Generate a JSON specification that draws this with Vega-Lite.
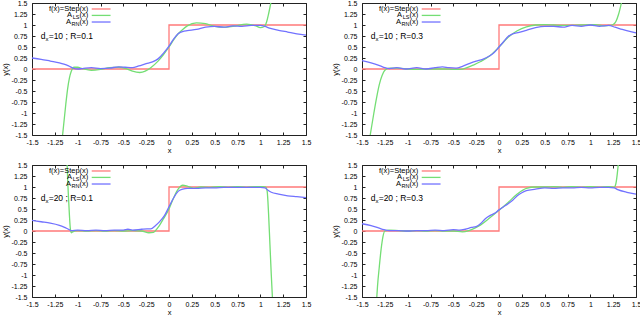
{
"$schema": "https://vega.github.io/schema/vega-lite/v6.json",
"padding": {"left": 0, "top": -2, "right": 0, "bottom": 0},
"config": {
 "view": {"stroke": "#222", "strokeWidth": 1},
 "axis": {"labelFont": "Liberation Sans", "labelFontSize": 7, "labelColor": "#000", "titleFont": "Liberation Sans", "titleFontSize": 7.5, "titleFontWeight": "normal", "titleColor": "#000", "domain": false, "grid": false, "tickSize": -3, "tickColor": "#222", "tickWidth": 1, "labelFlush": false, "labelOverlap": false},
 "text": {"font": "Liberation Sans", "fontSize": 7.5, "baseline": "middle", "color": "#000"},
 "line": {"clip": true, "strokeWidth": 1.3}
},
"datasets": {
 "step": [{"x": -1.5, "y": 0}, {"x": 0, "y": 1}, {"x": 1.5, "y": 1}],
 "p1rn": [{"x":-1.5,"y":0.25},{"x":-1.4,"y":0.22},{"x":-1.3,"y":0.18},{"x":-1.2,"y":0.14},{"x":-1.15,"y":0.11},{"x":-1.1,"y":0.07},{"x":-1.05,"y":0.02},{"x":-1.0,"y":0.0},{"x":-0.95,"y":0.01},{"x":-0.85,"y":0.03},{"x":-0.75,"y":0.01},{"x":-0.65,"y":0.02},{"x":-0.55,"y":0.05},{"x":-0.48,"y":0.04},{"x":-0.4,"y":0.03},{"x":-0.33,"y":0.07},{"x":-0.25,"y":0.12},{"x":-0.18,"y":0.16},{"x":-0.12,"y":0.23},{"x":-0.06,"y":0.36},{"x":0,"y":0.52},{"x":0.05,"y":0.68},{"x":0.1,"y":0.8},{"x":0.15,"y":0.85},{"x":0.2,"y":0.87},{"x":0.3,"y":0.9},{"x":0.4,"y":0.95},{"x":0.5,"y":0.97},{"x":0.6,"y":0.95},{"x":0.7,"y":0.98},{"x":0.8,"y":0.97},{"x":0.9,"y":0.99},{"x":1.0,"y":0.99},{"x":1.05,"y":0.97},{"x":1.1,"y":0.93},{"x":1.2,"y":0.88},{"x":1.3,"y":0.84},{"x":1.4,"y":0.8},{"x":1.5,"y":0.77}],
 "p1ls": [{"x":-1.165,"y":-1.5},{"x":-1.13,"y":-0.8},{"x":-1.11,"y":-0.45},{"x":-1.09,"y":-0.2},{"x":-1.07,"y":-0.05},{"x":-1.04,"y":0.04},{"x":-1.0,"y":0.04},{"x":-0.95,"y":0.01},{"x":-0.85,"y":-0.03},{"x":-0.75,"y":-0.01},{"x":-0.65,"y":0.03},{"x":-0.55,"y":0.04},{"x":-0.47,"y":0.01},{"x":-0.4,"y":-0.05},{"x":-0.32,"y":-0.08},{"x":-0.26,"y":-0.05},{"x":-0.2,"y":0.03},{"x":-0.12,"y":0.18},{"x":-0.06,"y":0.33},{"x":0,"y":0.5},{"x":0.05,"y":0.66},{"x":0.1,"y":0.8},{"x":0.15,"y":0.9},{"x":0.2,"y":0.98},{"x":0.3,"y":1.05},{"x":0.4,"y":1.03},{"x":0.5,"y":0.97},{"x":0.6,"y":0.95},{"x":0.7,"y":0.97},{"x":0.85,"y":1.02},{"x":0.95,"y":0.98},{"x":1.0,"y":0.94},{"x":1.04,"y":0.96},{"x":1.07,"y":1.08},{"x":1.09,"y":1.25},{"x":1.115,"y":1.5}],
 "p2rn": [{"x":-1.5,"y":0.19},{"x":-1.4,"y":0.14},{"x":-1.3,"y":0.07},{"x":-1.25,"y":0.03},{"x":-1.2,"y":0.01},{"x":-1.12,"y":0.03},{"x":-1.02,"y":0.0},{"x":-0.9,"y":0.03},{"x":-0.8,"y":0.0},{"x":-0.7,"y":0.03},{"x":-0.62,"y":0.05},{"x":-0.55,"y":0.03},{"x":-0.47,"y":0.02},{"x":-0.4,"y":0.06},{"x":-0.32,"y":0.13},{"x":-0.25,"y":0.18},{"x":-0.18,"y":0.22},{"x":-0.1,"y":0.3},{"x":-0.05,"y":0.38},{"x":0,"y":0.5},{"x":0.05,"y":0.62},{"x":0.1,"y":0.74},{"x":0.15,"y":0.8},{"x":0.22,"y":0.83},{"x":0.3,"y":0.88},{"x":0.4,"y":0.94},{"x":0.5,"y":0.97},{"x":0.6,"y":0.97},{"x":0.7,"y":0.95},{"x":0.8,"y":0.99},{"x":0.9,"y":0.97},{"x":1.0,"y":1.0},{"x":1.1,"y":0.97},{"x":1.2,"y":0.99},{"x":1.27,"y":0.95},{"x":1.35,"y":0.9},{"x":1.42,"y":0.86},{"x":1.5,"y":0.82}],
 "p2ls": [{"x":-1.41,"y":-1.5},{"x":-1.37,"y":-1.0},{"x":-1.34,"y":-0.65},{"x":-1.31,"y":-0.35},{"x":-1.28,"y":-0.15},{"x":-1.25,"y":-0.03},{"x":-1.2,"y":0.02},{"x":-1.1,"y":0.02},{"x":-1.0,"y":0.0},{"x":-0.9,"y":-0.01},{"x":-0.75,"y":0.0},{"x":-0.6,"y":0.0},{"x":-0.5,"y":-0.01},{"x":-0.42,"y":-0.01},{"x":-0.35,"y":0.03},{"x":-0.28,"y":0.09},{"x":-0.2,"y":0.17},{"x":-0.1,"y":0.3},{"x":0,"y":0.5},{"x":0.1,"y":0.72},{"x":0.2,"y":0.87},{"x":0.3,"y":0.96},{"x":0.4,"y":1.0},{"x":0.5,"y":1.01},{"x":0.6,"y":1.0},{"x":0.75,"y":0.99},{"x":0.9,"y":1.0},{"x":1.05,"y":1.01},{"x":1.15,"y":0.98},{"x":1.22,"y":0.99},{"x":1.25,"y":1.01},{"x":1.28,"y":1.08},{"x":1.31,"y":1.25},{"x":1.34,"y":1.5}],
 "p3rn": [{"x":-1.5,"y":0.24},{"x":-1.4,"y":0.21},{"x":-1.3,"y":0.18},{"x":-1.2,"y":0.13},{"x":-1.15,"y":0.09},{"x":-1.1,"y":0.04},{"x":-1.07,"y":0.01},{"x":-1.0,"y":0.02},{"x":-0.9,"y":0.01},{"x":-0.8,"y":0.02},{"x":-0.7,"y":0.01},{"x":-0.6,"y":0.02},{"x":-0.5,"y":0.02},{"x":-0.45,"y":0.04},{"x":-0.4,"y":0.02},{"x":-0.3,"y":0.04},{"x":-0.24,"y":0.05},{"x":-0.2,"y":0.05},{"x":-0.15,"y":0.12},{"x":-0.1,"y":0.22},{"x":-0.05,"y":0.35},{"x":0,"y":0.55},{"x":0.05,"y":0.75},{"x":0.1,"y":0.9},{"x":0.15,"y":0.95},{"x":0.2,"y":0.97},{"x":0.3,"y":0.97},{"x":0.4,"y":0.98},{"x":0.5,"y":0.98},{"x":0.6,"y":0.99},{"x":0.75,"y":0.99},{"x":0.9,"y":0.99},{"x":1.0,"y":0.99},{"x":1.05,"y":0.98},{"x":1.08,"y":0.93},{"x":1.12,"y":0.88},{"x":1.2,"y":0.84},{"x":1.3,"y":0.8},{"x":1.4,"y":0.78},{"x":1.5,"y":0.76}],
 "p3ls": [{"x":-1.115,"y":1.5},{"x":-1.11,"y":1.2},{"x":-1.1,"y":0.75},{"x":-1.09,"y":0.35},{"x":-1.08,"y":0.05},{"x":-1.07,"y":-0.04},{"x":-1.055,"y":-0.02},{"x":-1.0,"y":0.01},{"x":-0.9,"y":0.0},{"x":-0.8,"y":0.01},{"x":-0.7,"y":0.0},{"x":-0.6,"y":0.01},{"x":-0.5,"y":0.0},{"x":-0.4,"y":0.01},{"x":-0.3,"y":0.0},{"x":-0.22,"y":-0.04},{"x":-0.17,"y":-0.03},{"x":-0.12,"y":0.08},{"x":-0.06,"y":0.28},{"x":0,"y":0.5},{"x":0.05,"y":0.75},{"x":0.1,"y":0.95},{"x":0.15,"y":1.04},{"x":0.2,"y":1.02},{"x":0.27,"y":0.97},{"x":0.35,"y":1.0},{"x":0.45,"y":0.99},{"x":0.55,"y":1.01},{"x":0.65,"y":0.99},{"x":0.75,"y":1.01},{"x":0.85,"y":0.99},{"x":0.95,"y":1.01},{"x":1.03,"y":1.01},{"x":1.06,"y":1.0},{"x":1.075,"y":0.9},{"x":1.09,"y":0.4},{"x":1.105,"y":-0.3},{"x":1.12,"y":-1.0},{"x":1.132,"y":-1.5}],
 "p4rn": [{"x":-1.5,"y":0.165},{"x":-1.4,"y":0.12},{"x":-1.32,"y":0.07},{"x":-1.26,"y":0.03},{"x":-1.2,"y":0.01},{"x":-1.1,"y":0.01},{"x":-1.0,"y":0.0},{"x":-0.9,"y":0.01},{"x":-0.8,"y":0.01},{"x":-0.7,"y":0.02},{"x":-0.6,"y":0.01},{"x":-0.5,"y":0.03},{"x":-0.43,"y":0.02},{"x":-0.37,"y":0.04},{"x":-0.3,"y":0.08},{"x":-0.25,"y":0.1},{"x":-0.2,"y":0.17},{"x":-0.15,"y":0.28},{"x":-0.1,"y":0.35},{"x":-0.05,"y":0.4},{"x":0,"y":0.48},{"x":0.05,"y":0.55},{"x":0.1,"y":0.62},{"x":0.15,"y":0.7},{"x":0.2,"y":0.8},{"x":0.25,"y":0.87},{"x":0.3,"y":0.92},{"x":0.4,"y":0.95},{"x":0.5,"y":0.98},{"x":0.6,"y":0.97},{"x":0.7,"y":0.98},{"x":0.8,"y":0.98},{"x":0.9,"y":0.99},{"x":1.0,"y":0.98},{"x":1.1,"y":0.99},{"x":1.2,"y":0.99},{"x":1.26,"y":0.98},{"x":1.3,"y":0.94},{"x":1.4,"y":0.88},{"x":1.5,"y":0.84}],
 "p4ls": [{"x":-1.338,"y":-1.5},{"x":-1.33,"y":-1.25},{"x":-1.31,"y":-0.8},{"x":-1.29,"y":-0.4},{"x":-1.27,"y":-0.12},{"x":-1.25,"y":0.0},{"x":-1.2,"y":0.02},{"x":-1.1,"y":0.01},{"x":-1.0,"y":0.0},{"x":-0.9,"y":0.01},{"x":-0.8,"y":0.0},{"x":-0.7,"y":0.01},{"x":-0.6,"y":0.0},{"x":-0.5,"y":0.0},{"x":-0.4,"y":-0.02},{"x":-0.33,"y":0.01},{"x":-0.27,"y":0.06},{"x":-0.2,"y":0.14},{"x":-0.1,"y":0.3},{"x":0,"y":0.47},{"x":0.1,"y":0.65},{"x":0.2,"y":0.84},{"x":0.3,"y":0.97},{"x":0.4,"y":1.0},{"x":0.5,"y":1.0},{"x":0.6,"y":1.01},{"x":0.7,"y":0.99},{"x":0.8,"y":1.01},{"x":0.9,"y":0.99},{"x":1.0,"y":1.01},{"x":1.1,"y":0.99},{"x":1.2,"y":1.01},{"x":1.26,"y":0.99},{"x":1.28,"y":1.08},{"x":1.295,"y":1.3},{"x":1.305,"y":1.5}],
 "one": [{}]
},
"concat": [
 {"width": 274, "height": 132, "resolve": {"axis": {"x": "independent", "y": "independent"}},
  "layer": [
   {"data": {"name": "step"}, "mark": {"type": "line", "interpolate": "step-after", "color": "#ff7a7a"}, "encoding": {"x": {"field": "x", "type": "quantitative", "scale": {"domain": [-1.5, 1.5], "nice": false}, "axis": {"orient": "top", "values": [-1.5,-1.25,-1,-0.75,-0.5,-0.25,0,0.25,0.5,0.75,1,1.25,1.5], "labels": false, "title": null, "labelPadding": 0, "minExtent": 0, "maxExtent": 0}}, "y": {"field": "y", "type": "quantitative", "scale": {"domain": [-1.5, 1.5], "nice": false}, "axis": {"orient": "right", "values": [-1.5,-1.25,-1,-0.75,-0.5,-0.25,0,0.25,0.5,0.75,1,1.25,1.5], "labels": false, "title": null, "labelPadding": 0, "minExtent": 0, "maxExtent": 0}}}},
   {"data": {"name": "p1ls"}, "mark": {"type": "line", "interpolate": "monotone", "color": "#74de74"}, "encoding": {"x": {"field": "x", "type": "quantitative", "scale": {"domain": [-1.5, 1.5], "nice": false}, "axis": null}, "y": {"field": "y", "type": "quantitative", "scale": {"domain": [-1.5, 1.5], "nice": false}, "axis": null}}},
   {"data": {"name": "p1rn"}, "mark": {"type": "line", "interpolate": "monotone", "color": "#7272ff"}, "encoding": {"x": {"field": "x", "type": "quantitative", "scale": {"domain": [-1.5, 1.5], "nice": false}, "axis": {"orient": "bottom", "values": [-1.5,-1.25,-1,-0.75,-0.5,-0.25,0,0.25,0.5,0.75,1,1.25,1.5], "labelExpr": "'' + datum.value", "labelPadding": 6, "title": "x", "titlePadding": 1}}, "y": {"field": "y", "type": "quantitative", "scale": {"domain": [-1.5, 1.5], "nice": false}, "axis": {"orient": "left", "values": [-1.5,-1.25,-1,-0.75,-0.5,-0.25,0,0.25,0.5,0.75,1,1.25,1.5], "labelExpr": "'' + datum.value", "labelPadding": 8, "title": "y(x)", "titlePadding": 2}}}},
   {"data": {"name": "one"}, "mark": {"type": "rule", "color": "#ff7a7a", "strokeWidth": 1.3}, "encoding": {"x": {"datum": -0.846, "axis": null}, "x2": {"datum": -0.64}, "y": {"datum": 1.364, "axis": null}}},
   {"data": {"name": "one"}, "mark": {"type": "rule", "color": "#74de74", "strokeWidth": 1.3}, "encoding": {"x": {"datum": -0.846, "axis": null}, "x2": {"datum": -0.64}, "y": {"datum": 1.218, "axis": null}}},
   {"data": {"name": "one"}, "mark": {"type": "rule", "color": "#7272ff", "strokeWidth": 1.3}, "encoding": {"x": {"datum": -0.846, "axis": null}, "x2": {"datum": -0.64}, "y": {"datum": 1.068, "axis": null}}},
   {"data": {"name": "one"}, "mark": {"type": "text", "align": "right"}, "encoding": {"x": {"datum": -0.883, "axis": null}, "y": {"datum": 1.364, "axis": null}, "text": {"value": "f(x)=Step(x)"}}},
   {"data": {"name": "one"}, "mark": {"type": "text", "align": "right"}, "encoding": {"x": {"datum": -0.883, "axis": null}, "y": {"datum": 1.218, "axis": null}, "text": {"value": "(x)"}}},
   {"data": {"name": "one"}, "mark": {"type": "text", "align": "right", "fontSize": 5.5, "dx": -8.9, "dy": 2}, "encoding": {"x": {"datum": -0.883, "axis": null}, "y": {"datum": 1.218, "axis": null}, "text": {"value": "LS"}}},
   {"data": {"name": "one"}, "mark": {"type": "text", "align": "right", "dx": -16.3}, "encoding": {"x": {"datum": -0.883, "axis": null}, "y": {"datum": 1.218, "axis": null}, "text": {"value": "A"}}},
   {"data": {"name": "one"}, "mark": {"type": "text", "align": "right"}, "encoding": {"x": {"datum": -0.883, "axis": null}, "y": {"datum": 1.068, "axis": null}, "text": {"value": "(x)"}}},
   {"data": {"name": "one"}, "mark": {"type": "text", "align": "right", "fontSize": 5.5, "dx": -8.9, "dy": 2}, "encoding": {"x": {"datum": -0.883, "axis": null}, "y": {"datum": 1.068, "axis": null}, "text": {"value": "RN"}}},
   {"data": {"name": "one"}, "mark": {"type": "text", "align": "right", "dx": -17.4}, "encoding": {"x": {"datum": -0.883, "axis": null}, "y": {"datum": 1.068, "axis": null}, "text": {"value": "A"}}},
   {"data": {"name": "one"}, "mark": {"type": "text", "align": "left", "fontSize": 8.5}, "encoding": {"x": {"datum": -1.405, "axis": null}, "y": {"datum": 0.74, "axis": null}, "text": {"value": "d"}}},
   {"data": {"name": "one"}, "mark": {"type": "text", "align": "left", "fontSize": 6, "dx": 4.8, "dy": 2.5}, "encoding": {"x": {"datum": -1.405, "axis": null}, "y": {"datum": 0.74, "axis": null}, "text": {"value": "x"}}},
   {"data": {"name": "one"}, "mark": {"type": "text", "align": "left", "fontSize": 8.5, "dx": 8}, "encoding": {"x": {"datum": -1.405, "axis": null}, "y": {"datum": 0.74, "axis": null}, "text": {"value": "=10 ; R=0.1"}}}
  ]},
 {"width": 274, "height": 132, "resolve": {"axis": {"x": "independent", "y": "independent"}},
  "layer": [
   {"data": {"name": "step"}, "mark": {"type": "line", "interpolate": "step-after", "color": "#ff7a7a"}, "encoding": {"x": {"field": "x", "type": "quantitative", "scale": {"domain": [-1.5, 1.5], "nice": false}, "axis": {"orient": "top", "values": [-1.5,-1.25,-1,-0.75,-0.5,-0.25,0,0.25,0.5,0.75,1,1.25,1.5], "labels": false, "title": null, "labelPadding": 0, "minExtent": 0, "maxExtent": 0}}, "y": {"field": "y", "type": "quantitative", "scale": {"domain": [-1.5, 1.5], "nice": false}, "axis": {"orient": "right", "values": [-1.5,-1.25,-1,-0.75,-0.5,-0.25,0,0.25,0.5,0.75,1,1.25,1.5], "labels": false, "title": null, "labelPadding": 0, "minExtent": 0, "maxExtent": 0}}}},
   {"data": {"name": "p2ls"}, "mark": {"type": "line", "interpolate": "monotone", "color": "#74de74"}, "encoding": {"x": {"field": "x", "type": "quantitative", "scale": {"domain": [-1.5, 1.5], "nice": false}, "axis": null}, "y": {"field": "y", "type": "quantitative", "scale": {"domain": [-1.5, 1.5], "nice": false}, "axis": null}}},
   {"data": {"name": "p2rn"}, "mark": {"type": "line", "interpolate": "monotone", "color": "#7272ff"}, "encoding": {"x": {"field": "x", "type": "quantitative", "scale": {"domain": [-1.5, 1.5], "nice": false}, "axis": {"orient": "bottom", "values": [-1.5,-1.25,-1,-0.75,-0.5,-0.25,0,0.25,0.5,0.75,1,1.25,1.5], "labelExpr": "'' + datum.value", "labelPadding": 6, "title": "x", "titlePadding": 1}}, "y": {"field": "y", "type": "quantitative", "scale": {"domain": [-1.5, 1.5], "nice": false}, "axis": {"orient": "left", "values": [-1.5,-1.25,-1,-0.75,-0.5,-0.25,0,0.25,0.5,0.75,1,1.25,1.5], "labelExpr": "'' + datum.value", "labelPadding": 8, "title": "y(x)", "titlePadding": 2}}}},
   {"data": {"name": "one"}, "mark": {"type": "rule", "color": "#ff7a7a", "strokeWidth": 1.3}, "encoding": {"x": {"datum": -0.846, "axis": null}, "x2": {"datum": -0.64}, "y": {"datum": 1.364, "axis": null}}},
   {"data": {"name": "one"}, "mark": {"type": "rule", "color": "#74de74", "strokeWidth": 1.3}, "encoding": {"x": {"datum": -0.846, "axis": null}, "x2": {"datum": -0.64}, "y": {"datum": 1.218, "axis": null}}},
   {"data": {"name": "one"}, "mark": {"type": "rule", "color": "#7272ff", "strokeWidth": 1.3}, "encoding": {"x": {"datum": -0.846, "axis": null}, "x2": {"datum": -0.64}, "y": {"datum": 1.068, "axis": null}}},
   {"data": {"name": "one"}, "mark": {"type": "text", "align": "right"}, "encoding": {"x": {"datum": -0.883, "axis": null}, "y": {"datum": 1.364, "axis": null}, "text": {"value": "f(x)=Step(x)"}}},
   {"data": {"name": "one"}, "mark": {"type": "text", "align": "right"}, "encoding": {"x": {"datum": -0.883, "axis": null}, "y": {"datum": 1.218, "axis": null}, "text": {"value": "(x)"}}},
   {"data": {"name": "one"}, "mark": {"type": "text", "align": "right", "fontSize": 5.5, "dx": -8.9, "dy": 2}, "encoding": {"x": {"datum": -0.883, "axis": null}, "y": {"datum": 1.218, "axis": null}, "text": {"value": "LS"}}},
   {"data": {"name": "one"}, "mark": {"type": "text", "align": "right", "dx": -16.3}, "encoding": {"x": {"datum": -0.883, "axis": null}, "y": {"datum": 1.218, "axis": null}, "text": {"value": "A"}}},
   {"data": {"name": "one"}, "mark": {"type": "text", "align": "right"}, "encoding": {"x": {"datum": -0.883, "axis": null}, "y": {"datum": 1.068, "axis": null}, "text": {"value": "(x)"}}},
   {"data": {"name": "one"}, "mark": {"type": "text", "align": "right", "fontSize": 5.5, "dx": -8.9, "dy": 2}, "encoding": {"x": {"datum": -0.883, "axis": null}, "y": {"datum": 1.068, "axis": null}, "text": {"value": "RN"}}},
   {"data": {"name": "one"}, "mark": {"type": "text", "align": "right", "dx": -17.4}, "encoding": {"x": {"datum": -0.883, "axis": null}, "y": {"datum": 1.068, "axis": null}, "text": {"value": "A"}}},
   {"data": {"name": "one"}, "mark": {"type": "text", "align": "left", "fontSize": 8.5}, "encoding": {"x": {"datum": -1.405, "axis": null}, "y": {"datum": 0.74, "axis": null}, "text": {"value": "d"}}},
   {"data": {"name": "one"}, "mark": {"type": "text", "align": "left", "fontSize": 6, "dx": 4.8, "dy": 2.5}, "encoding": {"x": {"datum": -1.405, "axis": null}, "y": {"datum": 0.74, "axis": null}, "text": {"value": "x"}}},
   {"data": {"name": "one"}, "mark": {"type": "text", "align": "left", "fontSize": 8.5, "dx": 8}, "encoding": {"x": {"datum": -1.405, "axis": null}, "y": {"datum": 0.74, "axis": null}, "text": {"value": "=10 ; R=0.3"}}}
  ]},
 {"width": 274, "height": 132, "resolve": {"axis": {"x": "independent", "y": "independent"}},
  "layer": [
   {"data": {"name": "step"}, "mark": {"type": "line", "interpolate": "step-after", "color": "#ff7a7a"}, "encoding": {"x": {"field": "x", "type": "quantitative", "scale": {"domain": [-1.5, 1.5], "nice": false}, "axis": {"orient": "top", "values": [-1.5,-1.25,-1,-0.75,-0.5,-0.25,0,0.25,0.5,0.75,1,1.25,1.5], "labels": false, "title": null, "labelPadding": 0, "minExtent": 0, "maxExtent": 0}}, "y": {"field": "y", "type": "quantitative", "scale": {"domain": [-1.5, 1.5], "nice": false}, "axis": {"orient": "right", "values": [-1.5,-1.25,-1,-0.75,-0.5,-0.25,0,0.25,0.5,0.75,1,1.25,1.5], "labels": false, "title": null, "labelPadding": 0, "minExtent": 0, "maxExtent": 0}}}},
   {"data": {"name": "p3ls"}, "mark": {"type": "line", "interpolate": "monotone", "color": "#74de74"}, "encoding": {"x": {"field": "x", "type": "quantitative", "scale": {"domain": [-1.5, 1.5], "nice": false}, "axis": null}, "y": {"field": "y", "type": "quantitative", "scale": {"domain": [-1.5, 1.5], "nice": false}, "axis": null}}},
   {"data": {"name": "p3rn"}, "mark": {"type": "line", "interpolate": "monotone", "color": "#7272ff"}, "encoding": {"x": {"field": "x", "type": "quantitative", "scale": {"domain": [-1.5, 1.5], "nice": false}, "axis": {"orient": "bottom", "values": [-1.5,-1.25,-1,-0.75,-0.5,-0.25,0,0.25,0.5,0.75,1,1.25,1.5], "labelExpr": "'' + datum.value", "labelPadding": 6, "title": "x", "titlePadding": 1}}, "y": {"field": "y", "type": "quantitative", "scale": {"domain": [-1.5, 1.5], "nice": false}, "axis": {"orient": "left", "values": [-1.5,-1.25,-1,-0.75,-0.5,-0.25,0,0.25,0.5,0.75,1,1.25,1.5], "labelExpr": "'' + datum.value", "labelPadding": 8, "title": "y(x)", "titlePadding": 2}}}},
   {"data": {"name": "one"}, "mark": {"type": "rule", "color": "#ff7a7a", "strokeWidth": 1.3}, "encoding": {"x": {"datum": -0.846, "axis": null}, "x2": {"datum": -0.64}, "y": {"datum": 1.364, "axis": null}}},
   {"data": {"name": "one"}, "mark": {"type": "rule", "color": "#74de74", "strokeWidth": 1.3}, "encoding": {"x": {"datum": -0.846, "axis": null}, "x2": {"datum": -0.64}, "y": {"datum": 1.218, "axis": null}}},
   {"data": {"name": "one"}, "mark": {"type": "rule", "color": "#7272ff", "strokeWidth": 1.3}, "encoding": {"x": {"datum": -0.846, "axis": null}, "x2": {"datum": -0.64}, "y": {"datum": 1.068, "axis": null}}},
   {"data": {"name": "one"}, "mark": {"type": "text", "align": "right"}, "encoding": {"x": {"datum": -0.883, "axis": null}, "y": {"datum": 1.364, "axis": null}, "text": {"value": "f(x)=Step(x)"}}},
   {"data": {"name": "one"}, "mark": {"type": "text", "align": "right"}, "encoding": {"x": {"datum": -0.883, "axis": null}, "y": {"datum": 1.218, "axis": null}, "text": {"value": "(x)"}}},
   {"data": {"name": "one"}, "mark": {"type": "text", "align": "right", "fontSize": 5.5, "dx": -8.9, "dy": 2}, "encoding": {"x": {"datum": -0.883, "axis": null}, "y": {"datum": 1.218, "axis": null}, "text": {"value": "LS"}}},
   {"data": {"name": "one"}, "mark": {"type": "text", "align": "right", "dx": -16.3}, "encoding": {"x": {"datum": -0.883, "axis": null}, "y": {"datum": 1.218, "axis": null}, "text": {"value": "A"}}},
   {"data": {"name": "one"}, "mark": {"type": "text", "align": "right"}, "encoding": {"x": {"datum": -0.883, "axis": null}, "y": {"datum": 1.068, "axis": null}, "text": {"value": "(x)"}}},
   {"data": {"name": "one"}, "mark": {"type": "text", "align": "right", "fontSize": 5.5, "dx": -8.9, "dy": 2}, "encoding": {"x": {"datum": -0.883, "axis": null}, "y": {"datum": 1.068, "axis": null}, "text": {"value": "RN"}}},
   {"data": {"name": "one"}, "mark": {"type": "text", "align": "right", "dx": -17.4}, "encoding": {"x": {"datum": -0.883, "axis": null}, "y": {"datum": 1.068, "axis": null}, "text": {"value": "A"}}},
   {"data": {"name": "one"}, "mark": {"type": "text", "align": "left", "fontSize": 8.5}, "encoding": {"x": {"datum": -1.405, "axis": null}, "y": {"datum": 0.74, "axis": null}, "text": {"value": "d"}}},
   {"data": {"name": "one"}, "mark": {"type": "text", "align": "left", "fontSize": 6, "dx": 4.8, "dy": 2.5}, "encoding": {"x": {"datum": -1.405, "axis": null}, "y": {"datum": 0.74, "axis": null}, "text": {"value": "x"}}},
   {"data": {"name": "one"}, "mark": {"type": "text", "align": "left", "fontSize": 8.5, "dx": 8}, "encoding": {"x": {"datum": -1.405, "axis": null}, "y": {"datum": 0.74, "axis": null}, "text": {"value": "=20 ; R=0.1"}}}
  ]},
 {"width": 274, "height": 132, "resolve": {"axis": {"x": "independent", "y": "independent"}},
  "layer": [
   {"data": {"name": "step"}, "mark": {"type": "line", "interpolate": "step-after", "color": "#ff7a7a"}, "encoding": {"x": {"field": "x", "type": "quantitative", "scale": {"domain": [-1.5, 1.5], "nice": false}, "axis": {"orient": "top", "values": [-1.5,-1.25,-1,-0.75,-0.5,-0.25,0,0.25,0.5,0.75,1,1.25,1.5], "labels": false, "title": null, "labelPadding": 0, "minExtent": 0, "maxExtent": 0}}, "y": {"field": "y", "type": "quantitative", "scale": {"domain": [-1.5, 1.5], "nice": false}, "axis": {"orient": "right", "values": [-1.5,-1.25,-1,-0.75,-0.5,-0.25,0,0.25,0.5,0.75,1,1.25,1.5], "labels": false, "title": null, "labelPadding": 0, "minExtent": 0, "maxExtent": 0}}}},
   {"data": {"name": "p4ls"}, "mark": {"type": "line", "interpolate": "monotone", "color": "#74de74"}, "encoding": {"x": {"field": "x", "type": "quantitative", "scale": {"domain": [-1.5, 1.5], "nice": false}, "axis": null}, "y": {"field": "y", "type": "quantitative", "scale": {"domain": [-1.5, 1.5], "nice": false}, "axis": null}}},
   {"data": {"name": "p4rn"}, "mark": {"type": "line", "interpolate": "monotone", "color": "#7272ff"}, "encoding": {"x": {"field": "x", "type": "quantitative", "scale": {"domain": [-1.5, 1.5], "nice": false}, "axis": {"orient": "bottom", "values": [-1.5,-1.25,-1,-0.75,-0.5,-0.25,0,0.25,0.5,0.75,1,1.25,1.5], "labelExpr": "'' + datum.value", "labelPadding": 6, "title": "x", "titlePadding": 1}}, "y": {"field": "y", "type": "quantitative", "scale": {"domain": [-1.5, 1.5], "nice": false}, "axis": {"orient": "left", "values": [-1.5,-1.25,-1,-0.75,-0.5,-0.25,0,0.25,0.5,0.75,1,1.25,1.5], "labelExpr": "'' + datum.value", "labelPadding": 8, "title": "y(x)", "titlePadding": 2}}}},
   {"data": {"name": "one"}, "mark": {"type": "rule", "color": "#ff7a7a", "strokeWidth": 1.3}, "encoding": {"x": {"datum": -0.846, "axis": null}, "x2": {"datum": -0.64}, "y": {"datum": 1.364, "axis": null}}},
   {"data": {"name": "one"}, "mark": {"type": "rule", "color": "#74de74", "strokeWidth": 1.3}, "encoding": {"x": {"datum": -0.846, "axis": null}, "x2": {"datum": -0.64}, "y": {"datum": 1.218, "axis": null}}},
   {"data": {"name": "one"}, "mark": {"type": "rule", "color": "#7272ff", "strokeWidth": 1.3}, "encoding": {"x": {"datum": -0.846, "axis": null}, "x2": {"datum": -0.64}, "y": {"datum": 1.068, "axis": null}}},
   {"data": {"name": "one"}, "mark": {"type": "text", "align": "right"}, "encoding": {"x": {"datum": -0.883, "axis": null}, "y": {"datum": 1.364, "axis": null}, "text": {"value": "f(x)=Step(x)"}}},
   {"data": {"name": "one"}, "mark": {"type": "text", "align": "right"}, "encoding": {"x": {"datum": -0.883, "axis": null}, "y": {"datum": 1.218, "axis": null}, "text": {"value": "(x)"}}},
   {"data": {"name": "one"}, "mark": {"type": "text", "align": "right", "fontSize": 5.5, "dx": -8.9, "dy": 2}, "encoding": {"x": {"datum": -0.883, "axis": null}, "y": {"datum": 1.218, "axis": null}, "text": {"value": "LS"}}},
   {"data": {"name": "one"}, "mark": {"type": "text", "align": "right", "dx": -16.3}, "encoding": {"x": {"datum": -0.883, "axis": null}, "y": {"datum": 1.218, "axis": null}, "text": {"value": "A"}}},
   {"data": {"name": "one"}, "mark": {"type": "text", "align": "right"}, "encoding": {"x": {"datum": -0.883, "axis": null}, "y": {"datum": 1.068, "axis": null}, "text": {"value": "(x)"}}},
   {"data": {"name": "one"}, "mark": {"type": "text", "align": "right", "fontSize": 5.5, "dx": -8.9, "dy": 2}, "encoding": {"x": {"datum": -0.883, "axis": null}, "y": {"datum": 1.068, "axis": null}, "text": {"value": "RN"}}},
   {"data": {"name": "one"}, "mark": {"type": "text", "align": "right", "dx": -17.4}, "encoding": {"x": {"datum": -0.883, "axis": null}, "y": {"datum": 1.068, "axis": null}, "text": {"value": "A"}}},
   {"data": {"name": "one"}, "mark": {"type": "text", "align": "left", "fontSize": 8.5}, "encoding": {"x": {"datum": -1.405, "axis": null}, "y": {"datum": 0.74, "axis": null}, "text": {"value": "d"}}},
   {"data": {"name": "one"}, "mark": {"type": "text", "align": "left", "fontSize": 6, "dx": 4.8, "dy": 2.5}, "encoding": {"x": {"datum": -1.405, "axis": null}, "y": {"datum": 0.74, "axis": null}, "text": {"value": "x"}}},
   {"data": {"name": "one"}, "mark": {"type": "text", "align": "left", "fontSize": 8.5, "dx": 8}, "encoding": {"x": {"datum": -1.405, "axis": null}, "y": {"datum": 0.74, "axis": null}, "text": {"value": "=20 ; R=0.3"}}}
  ]}
],
"columns": 2,
"spacing": {"row": 6, "column": 18}
}
